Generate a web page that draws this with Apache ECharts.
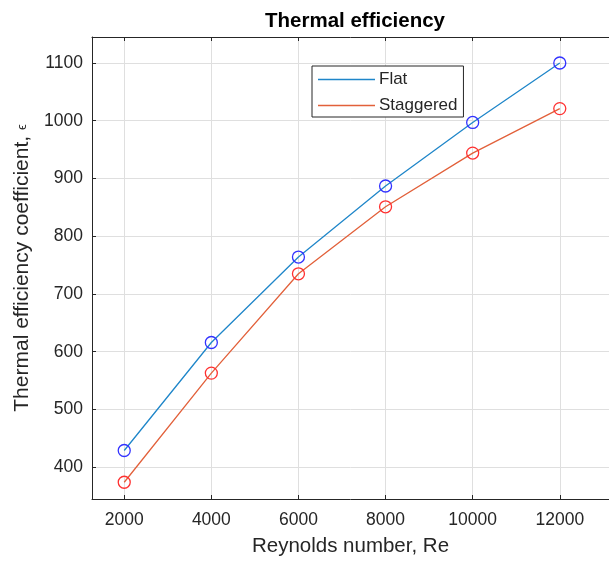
<!DOCTYPE html>
<html>
<head>
<meta charset="utf-8">
<title>Thermal efficiency</title>
<script src="https://cdn.jsdelivr.net/npm/echarts@6/dist/echarts.min.js"></script>
<style>
  html, body { margin: 0; padding: 0; background: #ffffff; }
  #chart { width: 609px; height: 562px; }
</style>
</head>
<body>
<div id="chart"></div>
<script>
// Reynolds numbers sampled
const reynolds = [2000, 4000, 6000, 8000, 10000, 12000];
// Thermal efficiency coefficient for each arrangement
const flatValues = [429, 616, 764, 887, 997, 1100];
const staggeredValues = [374, 563, 735, 851, 944, 1021];
// Tick positions shown on the axes
const xTicks = [2000, 4000, 6000, 8000, 10000, 12000];
const yTicks = [400, 500, 600, 700, 800, 900, 1000, 1100];

const FONT = '"Liberation Sans", Arial, Helvetica, sans-serif';
const INK = '#262626';
const GRID = '#dfdfdf';

const pairs = (xs, ys) => xs.map((x, i) => [x, ys[i]]);

const chart = echarts.init(document.getElementById('chart'), null, { renderer: 'canvas' });

const X_MIN = 1260, X_MAX = 13130;

const option = {
  backgroundColor: '#ffffff',
  animation: false,
  title: {
    text: 'Thermal efficiency',
    left: 350,
    top: 6,
    textAlign: 'center',
    textStyle: { fontFamily: FONT, fontSize: 20.5, fontWeight: 'bold', color: '#000000' }
  },
  grid: { left: 92, right: 0, top: 37, bottom: 61, containLabel: false },
  legend: {
    left: 312,
    top: 66,
    orient: 'vertical',
    padding: [4, 6, 2, 6],
    itemGap: 7,
    itemWidth: 57,
    itemHeight: 1.6,
    borderColor: INK,
    borderWidth: 1,
    backgroundColor: '#ffffff',
    textStyle: { fontFamily: FONT, fontSize: 17, color: INK, padding: [0, 0, 0, -1], lineHeight: 19 },
    data: [
      { name: 'Flat', icon: 'rect', itemStyle: { color: '#1f86c9', borderWidth: 0 } },
      { name: 'Staggered', icon: 'rect', itemStyle: { color: '#e2603a', borderWidth: 0 } }
    ]
  },
  xAxis: [
    {
      type: 'value',
      min: X_MIN,
      max: X_MAX,
      name: 'Reynolds number, Re',
      nameLocation: 'middle',
      nameGap: 37,
      nameTextStyle: { fontFamily: FONT, fontSize: 20.5, color: INK },
      axisLine: { show: true, onZero: false, lineStyle: { color: INK, width: 1 } },
      axisTick: { show: true, inside: true, length: 4, customValues: xTicks, lineStyle: { color: INK } },
      axisLabel: { customValues: xTicks, margin: 12, fontFamily: FONT, fontSize: 17.5, color: INK, formatter: v => String(v) },
      splitLine: { show: true, lineStyle: { color: GRID, width: 1 } }
    },
    {
      type: 'value',
      position: 'top',
      min: X_MIN,
      max: X_MAX,
      axisLine: { show: true, onZero: false, lineStyle: { color: INK, width: 1 } },
      axisTick: { show: true, inside: true, length: 4, customValues: xTicks, lineStyle: { color: INK } },
      axisLabel: { show: false },
      splitLine: { show: false }
    }
  ],
  yAxis: {
    type: 'value',
    min: 345,
    max: 1145,
    name: 'Thermal efficiency coefficient, {eps|ϵ}',
    nameLocation: 'middle',
    nameGap: 52,
    nameTextStyle: {
      fontFamily: FONT, fontSize: 21, color: INK,
      rich: { eps: { fontFamily: FONT, fontSize: 13, color: INK } }
    },
    axisLine: { show: true, onZero: false, lineStyle: { color: INK, width: 1 } },
    axisTick: { show: true, inside: true, length: 4, customValues: yTicks, lineStyle: { color: INK } },
    axisLabel: { customValues: yTicks, margin: 9, fontFamily: FONT, fontSize: 17.5, color: INK, formatter: v => String(v) },
    splitLine: { show: true, lineStyle: { color: GRID, width: 1 } }
  },
  series: [
    {
      name: 'Flat',
      type: 'line',
      xAxisIndex: 0,
      data: pairs(reynolds, flatValues),
      symbol: 'circle',
      symbolSize: 12,
      showAllSymbol: true,
      lineStyle: { color: '#1f86c9', width: 1.3 },
      itemStyle: { color: 'rgba(0,0,0,0)', borderColor: '#3232ff', borderWidth: 1.3 },
      z: 3
    },
    {
      name: 'Staggered',
      type: 'line',
      xAxisIndex: 0,
      data: pairs(reynolds, staggeredValues),
      symbol: 'circle',
      symbolSize: 12,
      showAllSymbol: true,
      lineStyle: { color: '#e2603a', width: 1.3 },
      itemStyle: { color: 'rgba(0,0,0,0)', borderColor: '#ff3030', borderWidth: 1.3 },
      z: 3
    }
  ]
};

chart.setOption(option);
</script>
</body>
</html>
